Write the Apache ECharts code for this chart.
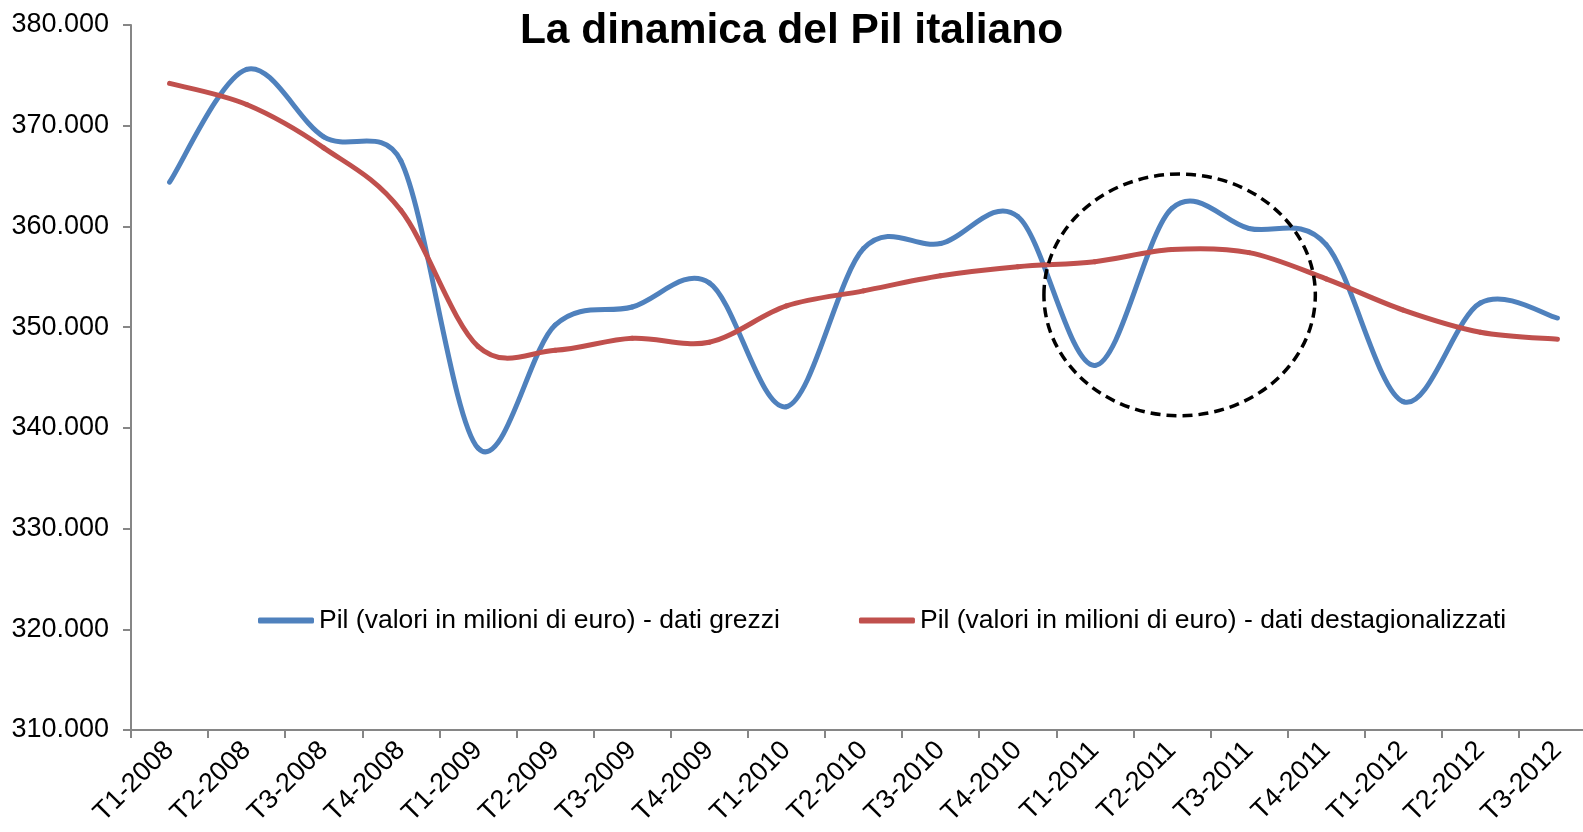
<!DOCTYPE html>
<html>
<head>
<meta charset="utf-8">
<script src="https://cdn.jsdelivr.net/npm/echarts@6/dist/echarts.min.js"></script>
<style>
  html, body { margin: 0; padding: 0; background: #fff; }
  #chart { width: 1583px; height: 832px; }
</style>
</head>
<body>
<div id="chart"></div>
<script>
const categories = ['T1-2008','T2-2008','T3-2008','T4-2008','T1-2009','T2-2009','T3-2009','T4-2009',
  'T1-2010','T2-2010','T3-2010','T4-2010','T1-2011','T2-2011','T3-2011','T4-2011','T1-2012','T2-2012','T3-2012'];
const datiGrezzi = [364400, 375600, 368900, 366500, 338000, 350200, 352000, 354400, 342100, 357800,
  358300, 361000, 346200, 361800, 359800, 358200, 342600, 352400, 350900];
const datiDestag = [374200, 372100, 367800, 361600, 348100, 347700, 348900, 348500, 352100, 353600,
  355100, 356000, 356500, 357700, 357400, 354800, 351700, 349500, 348800];
const yMin = 310000, yMax = 380000, yStep = 10000;
const titleText = 'La dinamica del Pil italiano';
const seriesNames = ['Pil (valori in milioni di euro) - dati grezzi', 'Pil (valori in milioni di euro) - dati destagionalizzati'];
const seriesColors = ['#4F81BD', '#C0504D'];
// highlighted area (annotation), in data units
const highlightCenter = { index: 13.1, value: 353200 };
const highlightRadius = { categories: 1.76, value: 12000 };

const FONT = "'Liberation Sans', Arial, sans-serif";
const fmt = v => String(v).replace(/\B(?=(\d{3})+(?!\d))/g, '.');

// Spreadsheet-style smoothed line: cubic Bezier segments through every point,
// positions from the chart's own axes (api.coord).
function smoothSegment(values, color) {
  return function (params, api) {
    const i = params.dataIndex, n = values.length;
    if (i >= n - 1) return null;
    const P = k => api.coord([k, values[k]]);
    const p0 = P(Math.max(i - 1, 0)), p1 = P(i), p2 = P(i + 1), p3 = P(Math.min(i + 2, n - 1));
    const d12 = Math.hypot(p2[0] - p1[0], p2[1] - p1[1]);
    const d02 = Math.hypot(p2[0] - p0[0], p2[1] - p0[1]);
    const d13 = Math.hypot(p3[0] - p1[0], p3[1] - p1[1]);
    let f1 = 1 / 6, f2 = 1 / 6;
    if (d02 / 6 > d12 / 2) f1 = d12 / 2 / d02;
    if (d13 / 6 > d12 / 2) f2 = d12 / 2 / d13;
    return {
      type: 'bezierCurve',
      shape: {
        x1: p1[0], y1: p1[1], x2: p2[0], y2: p2[1],
        cpx1: p1[0] + (p2[0] - p0[0]) * f1, cpy1: p1[1] + (p2[1] - p0[1]) * f1,
        cpx2: p2[0] - (p3[0] - p1[0]) * f2, cpy2: p2[1] - (p3[1] - p1[1]) * f2
      },
      style: { stroke: color, lineWidth: 5, fill: null, lineCap: 'round' }
    };
  };
}

const chart = echarts.init(document.getElementById('chart'), null, { renderer: 'canvas' });
chart.setOption({
  animation: false,
  backgroundColor: '#fff',
  title: {
    text: titleText, left: 'center', top: 5,
    textStyle: { fontFamily: FONT, fontSize: 42.5, fontWeight: 'bold', color: '#000' }
  },
  legend: {
    left: 253, top: 602, itemWidth: 56, itemGap: 79, itemHeight: 6, icon: 'roundRect',
    textStyle: { fontFamily: FONT, fontSize: 26.5, color: '#000' },
    data: seriesNames
  },
  grid: { left: 131, top: 25, width: 1465, height: 705, outerBoundsMode: 'none', containLabel: false },
  xAxis: {
    type: 'category', data: categories, boundaryGap: true,
    axisLine: { lineStyle: { color: '#868686', width: 2 } },
    axisTick: { show: true, length: 8, alignWithLabel: false, lineStyle: { color: '#868686', width: 2 } },
    axisLabel: { rotate: 45, interval: 0, margin: 16, fontFamily: FONT, fontSize: 27, color: '#000' },
    splitLine: { show: false }
  },
  yAxis: {
    type: 'value', min: yMin, max: yMax, interval: yStep,
    axisLine: { show: true, lineStyle: { color: '#868686', width: 2 } },
    axisTick: { show: true, length: 8, lineStyle: { color: '#868686', width: 2 } },
    axisLabel: { margin: 22, fontFamily: FONT, fontSize: 27, color: '#000', formatter: fmt },
    splitLine: { show: false }
  },
  series: [
    { name: seriesNames[0], type: 'custom', data: datiGrezzi.map((v, i) => [i, v]),
      encode: { x: 0, y: 1 }, itemStyle: { color: seriesColors[0] },
      renderItem: smoothSegment(datiGrezzi, seriesColors[0]) },
    { name: seriesNames[1], type: 'custom', data: datiDestag.map((v, i) => [i, v]),
      encode: { x: 0, y: 1 }, itemStyle: { color: seriesColors[1] },
      renderItem: smoothSegment(datiDestag, seriesColors[1]) }
  ]
});

const p0 = chart.convertToPixel({ xAxisIndex: 0, yAxisIndex: 0 }, [13, highlightCenter.value]);
const p1 = chart.convertToPixel({ xAxisIndex: 0, yAxisIndex: 0 }, [14, highlightCenter.value + highlightRadius.value]);
const step = p1[0] - p0[0];
const cx = p0[0] + (highlightCenter.index - 13) * step;
const cy = p0[1];
const rx = highlightRadius.categories * step;
const ry = Math.abs(p0[1] - p1[1]);
chart.setOption({
  graphic: [{
    type: 'ellipse', z: 100,
    shape: { cx: cx, cy: cy, rx: rx, ry: ry },
    style: { fill: null, stroke: '#000', lineWidth: 3.5, lineDash: [10, 6] }
  }]
});
</script>
</body>
</html>
